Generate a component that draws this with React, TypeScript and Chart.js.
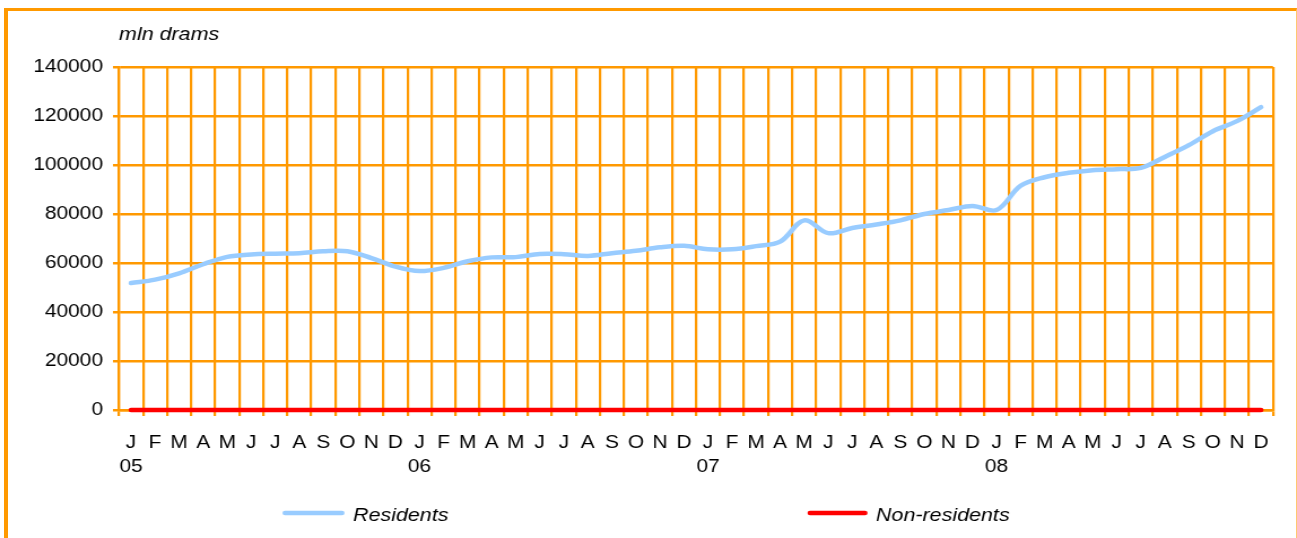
import React, { useEffect, useRef } from "react";
import { Chart, registerables } from "chart.js";

Chart.register(...registerables);

// ---- data ----
const monthLetters = ["J", "F", "M", "A", "M", "J", "J", "A", "S", "O", "N", "D"];
const yearLabels = ["05", "06", "07", "08"];

const residents = [
  51800, 53200, 55800, 59500, 62500, 63500, 63800, 64000, 64800, 64800, 62000, 58500,
  56700, 58000, 60700, 62300, 62400, 63700, 63600, 62900, 64000, 65000, 66400, 67000,
  65600, 65600, 66900, 68700, 77400, 72200, 74300, 75700, 77400, 80000, 81600, 83300,
  81600, 91500, 95000, 96800, 97900, 98300, 98800, 103300, 108100, 113800, 117900, 123600,
];

const nonResidents = [
  0, 0, 0, 0, 0, 0, 0, 0, 0, 0, 0, 0,
  0, 0, 0, 0, 0, 0, 0, 0, 0, 0, 0, 0,
  0, 0, 0, 0, 0, 0, 0, 0, 0, 0, 0, 0,
  0, 0, 0, 0, 0, 0, 0, 0, 0, 0, 0, 0,
];

const seriesNames = ["Residents", "Non-residents"];
const seriesColors = ["#99CCFF", "#FF0000"];
const yMin = 0;
const yMax = 140000;
const yStep = 20000;
const unitLabel = "mln drams";

// ---- style / layout ----
const ORANGE = "#FF9900";
const FONT = "'Liberation Sans', Arial, Helvetica, sans-serif";
const W = 1297;
const H = 538;
const CANVAS_W = 1148; // drawn narrower, then stretched horizontally to W
const SX = W / CANVAS_W;

const labels = yearLabels.flatMap((yr) =>
  monthLetters.map((m, i) => (i === 0 ? [m, yr] : m))
);

const overlayPlugin = {
  id: "overlay",
  afterDraw(chart: any) {
    const ctx = chart.ctx as CanvasRenderingContext2D;
    ctx.save();
    ctx.fillStyle = "#000";
    ctx.textBaseline = "alphabetic";
    ctx.textAlign = "left";
    ctx.font = `italic 19px ${FONT}`;
    ctx.fillText(unitLabel, chart.chartArea.left, 40);

    const legendItems = [
      { x0: 285, x1: 342, tx: 353 },
      { x0: 810, x1: 865, tx: 876 },
    ];
    legendItems.forEach((it, i) => {
      ctx.strokeStyle = seriesColors[i];
      ctx.lineWidth = 4.5;
      ctx.lineCap = "round";
      ctx.beginPath();
      ctx.moveTo(it.x0 / SX, 513);
      ctx.lineTo(it.x1 / SX, 513);
      ctx.stroke();
      ctx.fillText(seriesNames[i], it.tx / SX, 521);
    });
    ctx.restore();
  },
};

export default function App() {
  const canvasRef = useRef<HTMLCanvasElement | null>(null);

  useEffect(() => {
    if (!canvasRef.current) return;
    const chart = new Chart(canvasRef.current, {
      type: "line",
      data: {
        labels,
        datasets: [
          {
            label: seriesNames[0],
            data: residents,
            borderColor: seriesColors[0],
            backgroundColor: seriesColors[0],
            borderWidth: 4.5,
            borderCapStyle: "round",
            borderJoinStyle: "round",
            pointRadius: 0,
            tension: 0.35,
            fill: false,
            clip: false,
          },
          {
            label: seriesNames[1],
            data: nonResidents,
            borderColor: seriesColors[1],
            backgroundColor: seriesColors[1],
            borderWidth: 4.5,
            borderCapStyle: "round",
            pointRadius: 0,
            tension: 0,
            fill: false,
            clip: false,
          },
        ],
      },
      options: {
        animation: false,
        responsive: false,
        devicePixelRatio: 1,
        layout: { padding: { left: 0, right: (W - 1273) / SX, top: 67, bottom: 48 } },
        plugins: {
          legend: { display: false },
          tooltip: { enabled: false },
          title: { display: false },
        },
        scales: {
          x: {
            offset: true,
            grid: {
              offset: true,
              color: ORANGE,
              lineWidth: 2.5 / SX,
              tickLength: 6,
              drawTicks: true,
            },
            border: { color: ORANGE, width: 2.5 },
            ticks: {
              color: "#000",
              font: { family: FONT, size: 18.5, lineHeight: 1.3 },
              padding: 15,
              maxRotation: 0,
              minRotation: 0,
              autoSkip: false,
            },
            afterFit: (s: any) => {
              s.height = 80;
            },
          },
          y: {
            min: yMin,
            max: yMax,
            ticks: {
              stepSize: yStep,
              color: "#000",
              font: { family: FONT, size: 18.5 },
              padding: 10 / SX,
              callback: (v: any) => String(v),
            },
            grid: { color: ORANGE, lineWidth: 2.5, tickLength: 6 / SX },
            border: { color: ORANGE, width: 2.5 / SX },
            afterFit: (s: any) => {
              s.width = 119 / SX;
            },
          },
        },
      },
      plugins: [overlayPlugin],
    });
    return () => chart.destroy();
  }, []);

  return (
    <div
      style={{
        position: "absolute",
        left: 0,
        top: 0,
        width: W,
        height: H,
        overflow: "hidden",
        background: "#fff",
      }}
    >
      <canvas
        ref={canvasRef}
        width={CANVAS_W}
        height={H}
        style={{ display: "block", width: W, height: H }}
      />
      <div
        style={{
          position: "absolute",
          left: 4,
          top: 8,
          width: 1293,
          height: 600,
          boxSizing: "border-box",
          borderLeft: `4px solid ${ORANGE}`,
          borderTop: `3px solid ${ORANGE}`,
          borderRight: "1px solid #FFC870",
          pointerEvents: "none",
        }}
      />
    </div>
  );
}
